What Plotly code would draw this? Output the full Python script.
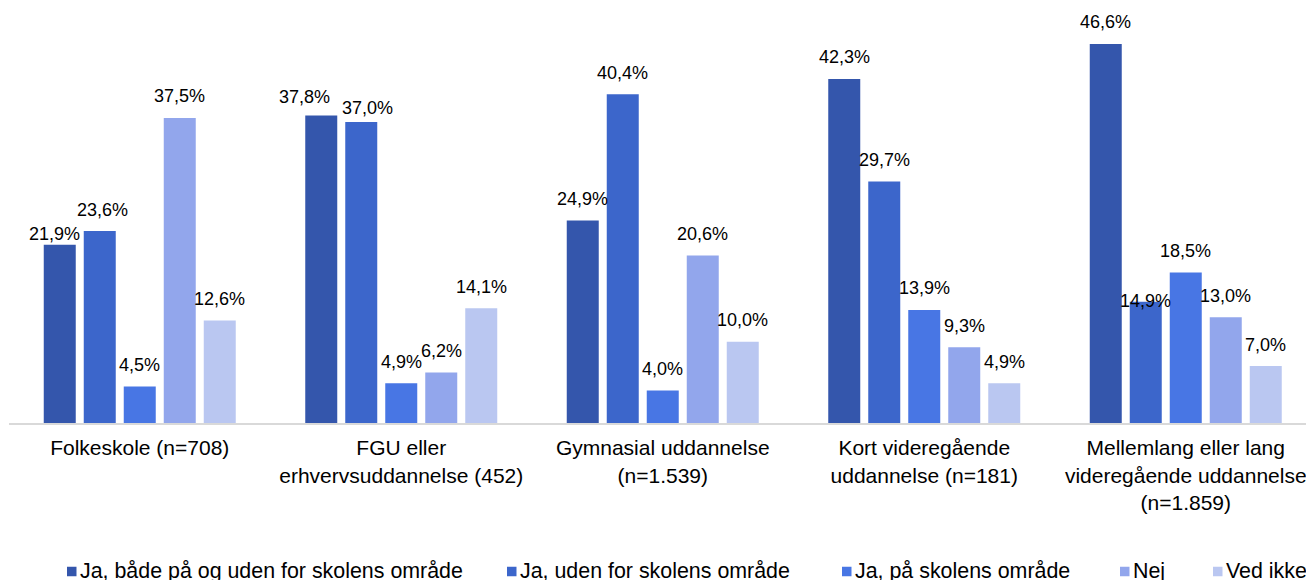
import plotly.graph_objects as go

# Categories (education level) and answer series
categories = [
    "Folkeskole (n=708)",
    "FGU eller<br>erhvervsuddannelse (452)",
    "Gymnasial uddannelse<br>(n=1.539)",
    "Kort videregående<br>uddannelse (n=181)",
    "Mellemlang eller lang<br>videregående uddannelse<br>(n=1.859)",
]
series_names = [
    "Ja, både på og uden for skolens område",
    "Ja, uden for skolens område",
    "Ja, på skolens område",
    "Nej",
    "Ved ikke",
]
ja_begge = [21.9, 37.8, 24.9, 42.3, 46.6]
ja_uden = [23.6, 37.0, 40.4, 29.7, 14.9]
ja_paa = [4.5, 4.9, 4.0, 13.9, 18.5]
nej = [37.5, 6.2, 20.6, 9.3, 13.0]
ved_ikke = [12.6, 14.1, 10.0, 4.9, 7.0]
series_values = [ja_begge, ja_uden, ja_paa, nej, ved_ikke]
colors = ["#3456AC", "#3C66CB", "#4876E4", "#92A6EC", "#BAC7F1"]

FONT = "Liberation Sans, Arial, sans-serif"
W, H = 1306, 580
L, R, T, B = 9, 0, 0, 157
plot_w = W - L - R
plot_h = H - T - B
cat_px = 261.5          # pixel width of one category
slot_px = 40.0          # pixel width of one bar slot inside a group
n_series = len(series_names)

# Hand-placed label nudges (pixels) where neighbouring labels would collide:
# key = (category index, series index) -> (dx, dy), dy positive = down
label_nudge = {
    (0, 0): (-5, 11),
    (0, 1): (3, 0),
    (1, 0): (-17, 3),
    (1, 1): (6, 7),
    (4, 1): (0, 21),
}
LABEL_GAP = 21.5        # label centre above bar top

fig = go.Figure()
for j, (name, vals, col) in enumerate(zip(series_names, series_values, colors)):
    fig.add_trace(go.Bar(
        x=list(range(len(categories))),
        y=vals,
        name=name,
        marker=dict(color=col, line=dict(width=0)),
        showlegend=False,
    ))
    for i, v in enumerate(vals):
        dx, dy = label_nudge.get((i, j), (0, 0))
        fig.add_annotation(
            x=i + (j - (n_series - 1) / 2) * slot_px / cat_px,
            y=v, xref="x", yref="y",
            text=f"{v:.1f}".replace(".", ",") + "%",
            showarrow=False, xanchor="center", yanchor="middle",
            xshift=dx, yshift=LABEL_GAP - dy,
            font=dict(family=FONT, size=18, color="#000000"),
        )

# Legend drawn as squares plus labels along the bottom
legend_sq_x = [67, 507, 842, 1120, 1213]
legend_y = 570.5
sq = 9.5
for name, col, px in zip(series_names, colors, legend_sq_x):
    x0 = (px - L) / plot_w
    x1 = (px + sq - L) / plot_w
    y0 = (plot_h - (legend_y + 1 + sq / 2)) / plot_h
    y1 = (plot_h - (legend_y + 1 - sq / 2)) / plot_h
    fig.add_shape(type="rect", xref="paper", yref="paper",
                  x0=x0, x1=x1, y0=y0, y1=y1,
                  fillcolor=col, line=dict(width=0))
    fig.add_annotation(
        xref="paper", yref="paper",
        x=(px + sq + 1.5 - L) / plot_w, y=(plot_h - legend_y) / plot_h,
        text=name, showarrow=False, xanchor="left", yanchor="middle",
        font=dict(family=FONT, size=21.4, color="#000000"),
    )

fig.update_layout(
    width=W, height=H,
    margin=dict(l=L, r=R, t=T, b=B, pad=0),
    paper_bgcolor="white", plot_bgcolor="white",
    barmode="group",
    bargap=1 - n_series * slot_px / cat_px,
    bargroupgap=0.2,
    font=dict(family=FONT, size=21, color="#000000"),
)
fig.update_xaxes(
    tickmode="array",
    tickvals=list(range(len(categories))),
    ticktext=categories,
    range=[-0.5, -0.5 + plot_w / cat_px],
    showgrid=False,
    zeroline=False,
    showline=True, linecolor="#D9D9D9", linewidth=2,
    ticks="",
    tickfont=dict(family=FONT, size=21, color="#000000"),
    ticklabelstandoff=5,
    ticklabeloverflow="allow",
)
fig.update_yaxes(
    range=[0, 52],
    visible=False,
)

fig.write_html("out.html")
